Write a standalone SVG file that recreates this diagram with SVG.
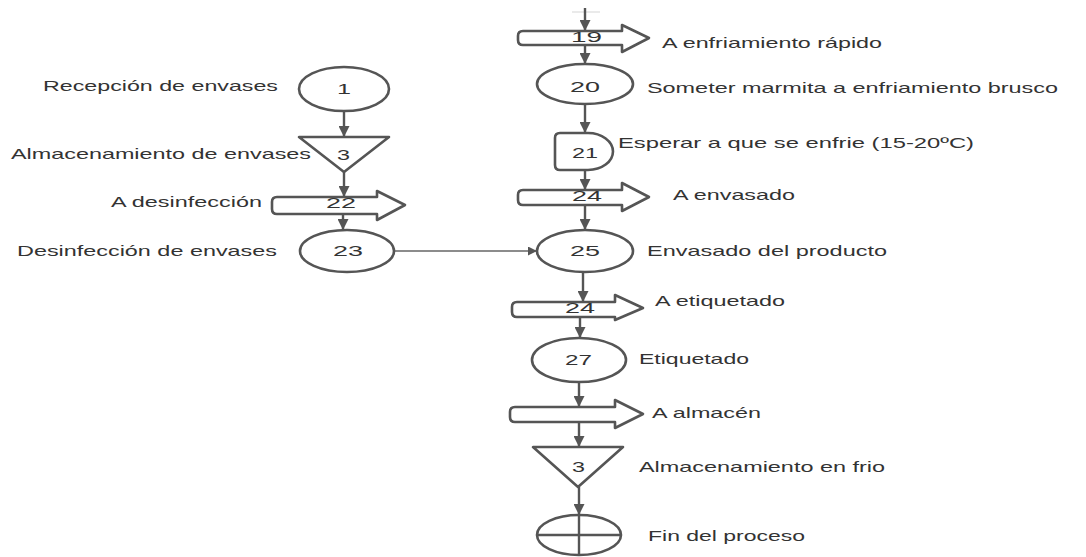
<svg xmlns="http://www.w3.org/2000/svg" width="1086" height="557" viewBox="0 0 1086 557">
<style>
.s{fill:#fff;stroke:#555;stroke-width:2.6;stroke-linejoin:round}
.c{fill:none;stroke:#555;stroke-width:2.4}
.h{fill:none;stroke:#666;stroke-width:1.4}
text{font-family:"Liberation Sans",Arial,sans-serif;font-size:14.5px;fill:#333}
</style>
<defs>
<marker id="a" viewBox="0 0 10 10" refX="10" refY="5" markerWidth="12" markerHeight="11" markerUnits="userSpaceOnUse" orient="auto">
<path d="M0,0 L10,5 L0,10 Z" fill="#555"/>
</marker>
<marker id="b" viewBox="0 0 10 10" refX="10" refY="5" markerWidth="12" markerHeight="9" markerUnits="userSpaceOnUse" orient="auto">
<path d="M0,0 L10,5 L0,10 Z" fill="#555"/>
</marker>
</defs>
<g id="connectors">
<line x1="572" y1="12" x2="600" y2="12" style="stroke:#dcdcdc;stroke-width:1.2"/>
<line class="c" x1="344" y1="111" x2="344" y2="137" marker-end="url(#a)"/>
<line class="c" x1="344" y1="172" x2="344" y2="197" marker-end="url(#a)"/>
<line class="c" x1="343" y1="214" x2="343" y2="230" marker-end="url(#a)"/>
<line class="h" x1="395" y1="251" x2="537" y2="251" marker-end="url(#b)"/>
<line class="c" x1="585" y1="8" x2="585" y2="31" marker-end="url(#a)"/>
<line class="c" x1="585" y1="45" x2="585" y2="64" marker-end="url(#a)"/>
<line class="c" x1="585" y1="103" x2="585" y2="133" marker-end="url(#a)"/>
<line class="c" x1="585" y1="170" x2="585" y2="190" marker-end="url(#a)"/>
<line class="c" x1="585" y1="205" x2="585" y2="230" marker-end="url(#a)"/>
<line class="c" x1="583" y1="272" x2="583" y2="302" marker-end="url(#a)"/>
<line class="c" x1="580" y1="317" x2="580" y2="338" marker-end="url(#a)"/>
<line class="c" x1="579" y1="382" x2="579" y2="407" marker-end="url(#a)"/>
<line class="c" x1="579" y1="422" x2="579" y2="447" marker-end="url(#a)"/>
<line class="c" x1="579" y1="487" x2="579" y2="515" marker-end="url(#a)"/>
</g>
<g id="n1">
<ellipse class="s" cx="344" cy="89" rx="45" ry="22"/>
<text x="337" y="94" textLength="14" lengthAdjust="spacingAndGlyphs">1</text>
<text x="43" y="91" textLength="235" lengthAdjust="spacingAndGlyphs">Recepción de envases</text>
</g>
<g id="n3a">
<path class="s" d="M299,137 L389,137 L344,172 Z"/>
<text x="337" y="160" textLength="13" lengthAdjust="spacingAndGlyphs">3</text>
<text x="11" y="159" textLength="300" lengthAdjust="spacingAndGlyphs">Almacenamiento de envases</text>
</g>
<g id="n22">
<path class="s" d="M277,197 L377,197 L377,191 L405,205 L377,220 L377,214 L277,214 Q272,214 272,209 L272,202 Q272,197 277,197 Z"/>
<text x="326" y="208" textLength="30" lengthAdjust="spacingAndGlyphs">22</text>
<text x="111" y="207" textLength="151" lengthAdjust="spacingAndGlyphs">A desinfección</text>
</g>
<g id="n23">
<ellipse class="s" cx="347" cy="251" rx="47" ry="21"/>
<text x="333" y="256" textLength="30" lengthAdjust="spacingAndGlyphs">23</text>
<text x="17" y="256" textLength="260" lengthAdjust="spacingAndGlyphs">Desinfección de envases</text>
</g>
<g id="n19">
<path class="s" d="M523,31 L622,31 L622,25 L649,38 L622,52 L622,45 L523,45 Q518,45 518,40 L518,36 Q518,31 523,31 Z"/>
<text x="571" y="42" textLength="31" lengthAdjust="spacingAndGlyphs">19</text>
<text x="662" y="48" textLength="220" lengthAdjust="spacingAndGlyphs">A enfriamiento rápido</text>
</g>
<g id="n20">
<ellipse class="s" cx="585" cy="84" rx="48" ry="20"/>
<text x="570" y="92" textLength="30" lengthAdjust="spacingAndGlyphs">20</text>
<text x="647" y="93" textLength="411" lengthAdjust="spacingAndGlyphs">Someter marmita a enfriamiento brusco</text>
</g>
<g id="n21">
<path class="s" d="M560,133 L588,133 A25,18.5 0 0 1 588,170 L560,170 Q555,170 555,165 L555,138 Q555,133 560,133 Z"/>
<text x="572" y="158" textLength="26" lengthAdjust="spacingAndGlyphs">21</text>
<text x="618" y="148" textLength="356" lengthAdjust="spacingAndGlyphs">Esperar a que se enfrie (15-20ºC)</text>
</g>
<g id="n24a">
<path class="s" d="M523,190 L622,190 L622,183 L649,197 L622,211 L622,205 L523,205 Q518,205 518,200 L518,195 Q518,190 523,190 Z"/>
<text x="572" y="201" textLength="30" lengthAdjust="spacingAndGlyphs">24</text>
<text x="673" y="200" textLength="122" lengthAdjust="spacingAndGlyphs">A envasado</text>
</g>
<g id="n25">
<ellipse class="s" cx="585" cy="251" rx="48" ry="21"/>
<text x="570" y="256" textLength="30" lengthAdjust="spacingAndGlyphs">25</text>
<text x="647" y="256" textLength="240" lengthAdjust="spacingAndGlyphs">Envasado del producto</text>
</g>
<g id="n24b">
<path class="s" d="M517,302 L615,302 L615,295 L643,308 L615,320 L615,317 L517,317 Q512,317 512,312 L512,307 Q512,302 517,302 Z"/>
<text x="565" y="313" textLength="30" lengthAdjust="spacingAndGlyphs">24</text>
<text x="655" y="306" textLength="130" lengthAdjust="spacingAndGlyphs">A etiquetado</text>
</g>
<g id="n27">
<ellipse class="s" cx="579" cy="360" rx="47" ry="22"/>
<text x="565" y="365" textLength="27" lengthAdjust="spacingAndGlyphs">27</text>
<text x="639" y="364" textLength="110" lengthAdjust="spacingAndGlyphs">Etiquetado</text>
</g>
<g id="nalmacen">
<path class="s" d="M515,407 L615,407 L615,400 L643,414 L615,428 L615,422 L515,422 Q510,422 510,417 L510,412 Q510,407 515,407 Z"/>
<text x="652" y="418" textLength="109" lengthAdjust="spacingAndGlyphs">A almacén</text>
</g>
<g id="n3b">
<path class="s" d="M533,447 L623,447 L578,487 Z"/>
<text x="572" y="472" textLength="13" lengthAdjust="spacingAndGlyphs">3</text>
<text x="639" y="472" textLength="246" lengthAdjust="spacingAndGlyphs">Almacenamiento en frio</text>
</g>
<g id="nfin">
<ellipse class="s" cx="579" cy="535" rx="42" ry="20"/>
<line class="c" x1="537" y1="535" x2="621" y2="535"/>
<line class="c" x1="579" y1="515" x2="579" y2="555"/>
<text x="648" y="541" textLength="157" lengthAdjust="spacingAndGlyphs">Fin del proceso</text>
</g>
</svg>
